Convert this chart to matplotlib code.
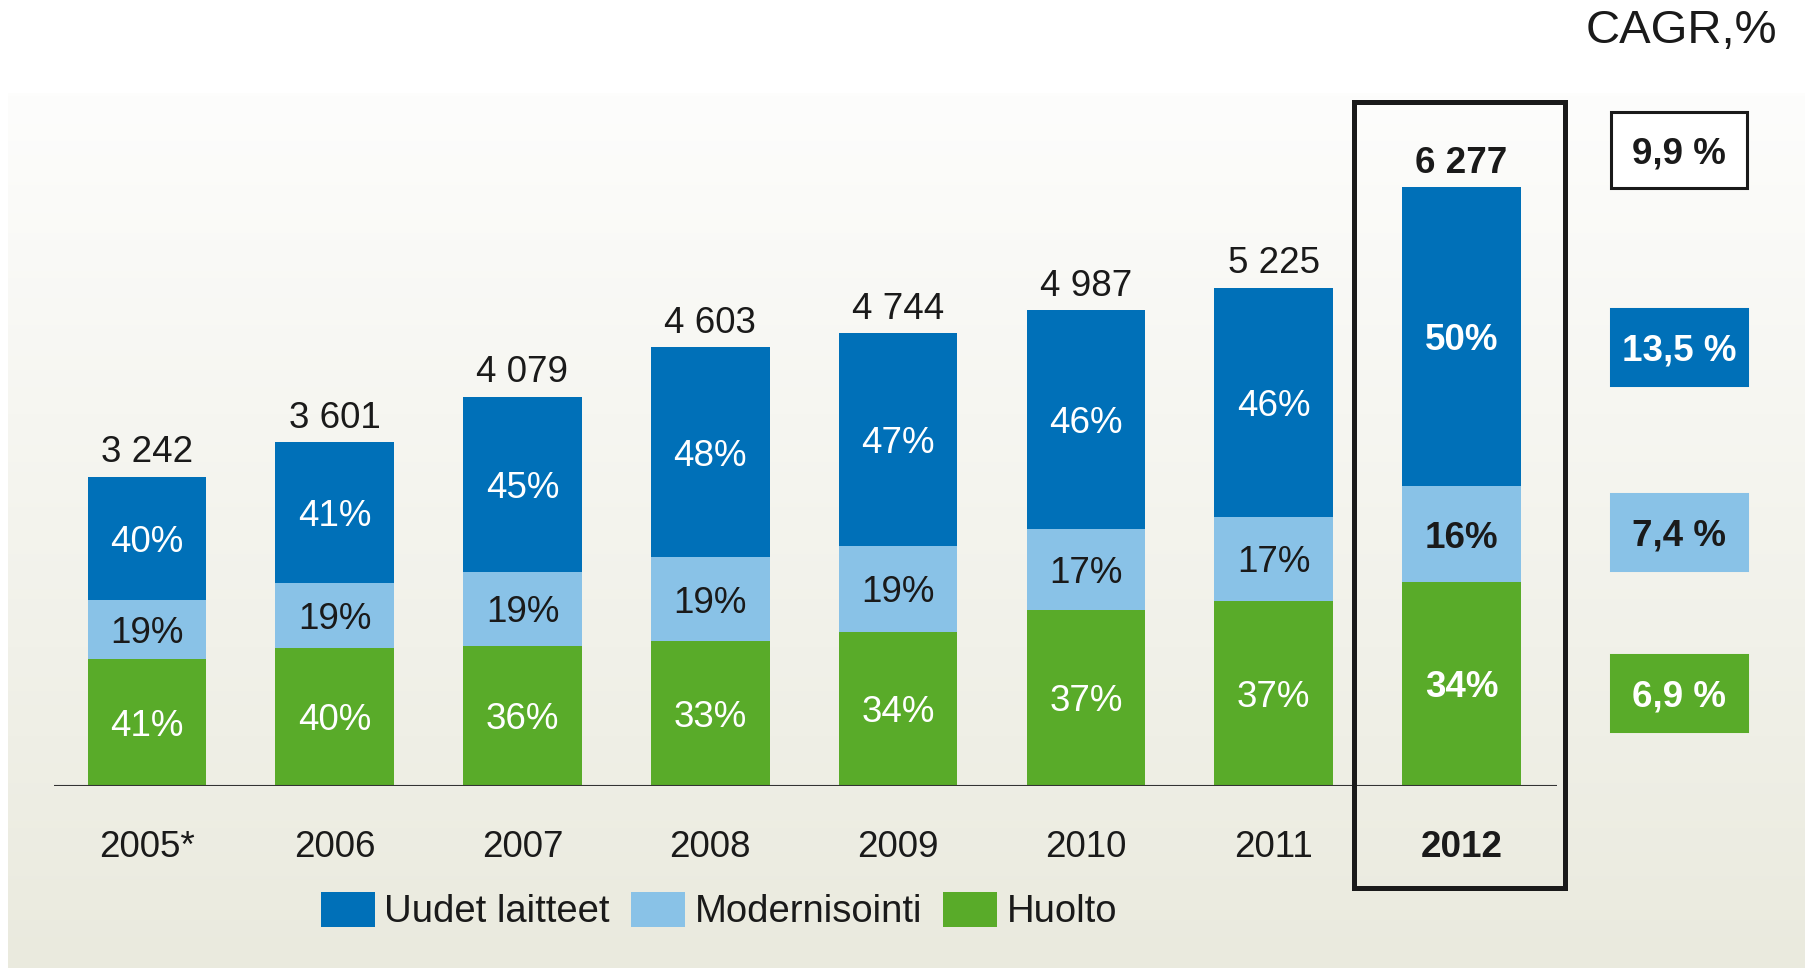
import numpy as np
import matplotlib
matplotlib.use('Agg')
import matplotlib.pyplot as plt
from matplotlib.patches import Rectangle, Patch

plt.rcParams['font.family'] = ['Liberation Sans', 'DejaVu Sans']

# data
years = ['2005*', '2006', '2007', '2008', '2009', '2010', '2011', '2012']
totals = [3242, 3601, 4079, 4603, 4744, 4987, 5225, 6277]
uudet = [40, 41, 45, 48, 47, 46, 46, 50]
modern = [19, 19, 19, 19, 19, 17, 17, 16]
huolto = [41, 40, 36, 33, 34, 37, 37, 34]
series_names = ['Uudet laitteet', 'Modernisointi', 'Huolto']
cagr_total = '9,9 %'
cagr_series = ['13,5 %', '7,4 %', '6,9 %']

BLUE = '#0070b8'
LIGHT = '#89c2e7'
GREEN = '#59ab29'
DARK = '#1a1a1a'

W, H = 1806, 968
fig = plt.figure(figsize=(W / 100, H / 100), dpi=100)

# taustan liukuvari (pikselikoordinaatit)
bg = fig.add_axes([0, 0, 1, 1], zorder=-10)
bg.axis('off')
top_c = np.array([253, 253, 252]) / 255
bot_c = np.array([234, 234, 222]) / 255
t = np.linspace(0, 1, 256)[:, None, None]
grad = top_c[None, None, :] * (1 - t) + bot_c[None, None, :] * t
bg.imshow(grad, extent=[8, W, H, 93], aspect='auto', origin='upper')
bg.set_xlim(0, W)
bg.set_ylim(H, 0)

# pylvaat
ax = fig.add_axes([54 / W, (H - 785.5) / H, (1557 - 54) / W, (785.5 - 100) / H])
ax.set_xlim(-0.494, 7.508)
ax.set_ylim(0, 7193)
ax.axis('off')
ax.patch.set_alpha(0)

x = np.arange(len(years))
width = 0.631
tot = np.array(totals, dtype=float)
h_green = tot * np.array(huolto) / 100
h_light = tot * np.array(modern) / 100
h_blue = tot * np.array(uudet) / 100

ax.bar(x, h_green, width, color=GREEN, zorder=2)
ax.bar(x, h_light, width, bottom=h_green, color=LIGHT, zorder=2)
ax.bar(x, h_blue, width, bottom=h_green + h_light, color=BLUE, zorder=2)
ax.axhline(0, color='#333333', lw=1.5, zorder=3)

last = len(years) - 1
for i in range(len(years)):
    wt = 'bold' if i == last else 'normal'
    segs = [(h_green[i] / 2, huolto[i], 'white'),
            (h_green[i] + h_light[i] / 2, modern[i], DARK),
            (h_green[i] + h_light[i] + h_blue[i] / 2, uudet[i], 'white')]
    for y, p, c in segs:
        ax.text(x[i], y, f'{p}%', ha='center', va='center_baseline',
                fontsize=26.5, color=c, weight=wt, zorder=4)
    ax.annotate(f'{totals[i]:,}'.replace(',', ' '), xy=(x[i], totals[i]),
                xytext=(0, 20), textcoords='offset points', ha='center',
                va='center_baseline', fontsize=26.5, color=DARK, weight=wt)
    ax.annotate(years[i], xy=(x[i], 0), xytext=(0, -42), textcoords='offset points',
                ha='center', va='center_baseline', fontsize=26.5, color=DARK, weight=wt,
                annotation_clip=False)

# korostuskehys viimeiselle vuodelle
ax.add_patch(Rectangle((last - 0.573, -1075), 1.124, 7172 + 1075, fill=False,
                       edgecolor=DARK, lw=3.6, clip_on=False, zorder=5))

# CAGR
fig.text(1681 / W, 1 - 31 / H, 'CAGR,%', fontsize=34, ha='center', va='center', color=DARK)
box_tops = [111.7, 308.7, 494, 655.4]
box_faces = ['white', BLUE, LIGHT, GREEN]
box_edges = [DARK, BLUE, LIGHT, GREEN]
box_txt = [DARK, 'white', DARK, 'white']
labels = [cagr_total] + cagr_series
for top, fc, ec, tc, lab in zip(box_tops, box_faces, box_edges, box_txt, labels):
    bg.add_patch(Rectangle((1611, top), 136, 76, facecolor=fc, edgecolor=ec, lw=2.2))
    bg.text(1679, top + 38, lab, ha='center', va='center_baseline', fontsize=26.5,
            weight='bold', color=tc)

handles = [Patch(facecolor=BLUE), Patch(facecolor=LIGHT), Patch(facecolor=GREEN)]
fig.legend(handles, series_names, loc='center', bbox_to_anchor=(719 / W, 1 - 911 / H),
           ncol=3, frameon=False, prop=dict(size=27.5),
           handlelength=1.42, handleheight=1.05, handletextpad=0.25, columnspacing=0.55,
           labelcolor=DARK)

fig.savefig('out.png', dpi=100)
